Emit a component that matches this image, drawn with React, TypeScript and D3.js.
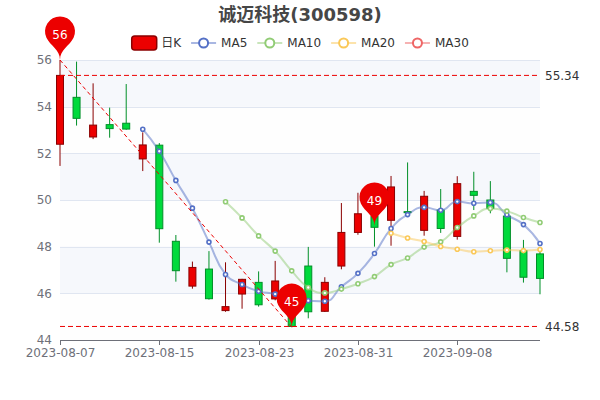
import React, { useMemo } from 'react';
import * as d3 from 'd3';

// Daily K-line data for 诚迈科技 (300598)
const title = '诚迈科技(300598)';
const dates = [
  '2023-08-07', '2023-08-08', '2023-08-09', '2023-08-10', '2023-08-11',
  '2023-08-14', '2023-08-15', '2023-08-16', '2023-08-17', '2023-08-18',
  '2023-08-21', '2023-08-22', '2023-08-23', '2023-08-24', '2023-08-25',
  '2023-08-28', '2023-08-29', '2023-08-30', '2023-08-31', '2023-09-01',
  '2023-09-04', '2023-09-05', '2023-09-06', '2023-09-07', '2023-09-08',
  '2023-09-11', '2023-09-12', '2023-09-13', '2023-09-14', '2023-09-15',
];
const opens = [
  52.39, 54.4, 52.7, 53.23, 53.29, 51.76, 52.35, 48.23, 46.31, 47.04,
  45.26, 45.97, 46.47, 45.76, 45.4, 47.17, 45.23, 47.17, 48.61, 49.3,
  49.13, 49.5, 48.7, 49.57, 48.44, 50.37, 50.0, 49.31, 47.83, 47.69,
];
const closes = [
  55.34, 53.5, 53.21, 53.06, 53.04, 52.36, 48.77, 46.97, 47.11, 45.77,
  45.43, 46.6, 45.51, 46.53, 44.58, 45.21, 46.47, 48.61, 49.41, 48.83,
  50.56, 49.46, 50.16, 48.78, 50.7, 50.2, 49.64, 47.5, 46.69, 46.64,
];
const lows = [
  51.46, 53.19, 52.61, 52.67, 53.01, 51.24, 48.17, 46.5, 46.2, 45.73,
  45.21, 45.34, 45.43, 45.7, 44.55, 44.93, 45.2, 47.03, 48.51, 48.0,
  48.04, 49.44, 48.47, 48.59, 48.3, 49.57, 49.43, 46.9, 46.46, 45.96,
];
const highs = [
  56.0, 55.93, 55.0, 53.96, 54.97, 52.9, 52.44, 48.5, 47.36, 47.81,
  47.33, 46.62, 46.94, 47.39, 46.4, 47.99, 46.69, 49.87, 50.31, 49.7,
  51.03, 51.61, 50.39, 50.47, 51.02, 51.21, 50.81, 49.43, 48.29, 47.79,
];
const yTicks = [44, 46, 48, 50, 52, 54, 56];
const maPeriods = [5, 10, 20, 30];
const maNames = ['MA5', 'MA10', 'MA20', 'MA30'];
const candleName = '日K';

const W = 600;
const H = 400;
const grid = { left: 60, right: 540, top: 60, bottom: 340 };
const FONT = '"DejaVu Sans", "Noto Sans CJK SC", sans-serif';
const UP = '#ec0000';
const UP_BORDER = '#8A0000';
const DOWN = '#00da3c';
const DOWN_BORDER = '#008F28';
const MA_COLORS = ['#5470c6', '#91cc75', '#fac858', '#ee6666'];
const AXIS_COLOR = '#6E7079';
const SPLIT_COLOR = '#E0E6F1';
const BAND_COLORS = ['rgba(250,250,250,0.2)', 'rgba(210,219,238,0.2)'];

function movingAverage(n: number): (number | null)[] {
  return closes.map((_, i) => (i < n ? null : (d3.mean(closes.slice(i - n + 1, i + 1)) as number)));
}

// Smoothed polyline (bezier with neighbour-ratio control points, clamped)
function smoothPath(pts: [number, number][], smooth = 0.5): string {
  let d = '';
  let prevX = 0, prevY = 0, cpx0 = 0, cpy0 = 0;
  const n = pts.length;
  const f = (v: number) => v.toFixed(2);
  for (let k = 0; k < n; k++) {
    const [x, y] = pts[k];
    if (k === 0) {
      d += `M${f(x)},${f(y)}`;
      cpx0 = x; cpy0 = y;
    } else {
      let cpx1: number, cpy1: number;
      let nextCpx0 = x, nextCpy0 = y;
      if (k + 1 >= n) {
        cpx1 = x; cpy1 = y;
      } else {
        const [nextX, nextY] = pts[k + 1];
        let vx = nextX - prevX, vy = nextY - prevY;
        const lenPrev = Math.hypot(x - prevX, y - prevY);
        const lenNext = Math.hypot(nextX - x, nextY - y);
        const ratio = lenNext / (lenNext + lenPrev);
        nextCpx0 = x + vx * smooth * ratio;
        nextCpy0 = y + vy * smooth * ratio;
        nextCpx0 = Math.min(nextCpx0, Math.max(nextX, x));
        nextCpy0 = Math.min(nextCpy0, Math.max(nextY, y));
        nextCpx0 = Math.max(nextCpx0, Math.min(nextX, x));
        nextCpy0 = Math.max(nextCpy0, Math.min(nextY, y));
        vx = nextCpx0 - x; vy = nextCpy0 - y;
        cpx1 = x - vx * lenPrev / lenNext;
        cpy1 = y - vy * lenPrev / lenNext;
        cpx1 = Math.min(cpx1, Math.max(prevX, x));
        cpy1 = Math.min(cpy1, Math.max(prevY, y));
        cpx1 = Math.max(cpx1, Math.min(prevX, x));
        cpy1 = Math.max(cpy1, Math.min(prevY, y));
        vx = x - cpx1; vy = y - cpy1;
        nextCpx0 = x + vx * lenNext / lenPrev;
        nextCpy0 = y + vy * lenNext / lenPrev;
      }
      d += `C${f(cpx0)},${f(cpy0)},${f(cpx1)},${f(cpy1)},${f(x)},${f(y)}`;
      cpx0 = nextCpx0; cpy0 = nextCpy0;
    }
    prevX = x; prevY = y;
  }
  return d;
}

// Map-pin marker with its tip at (x, y)
function pinPath(x: number, y: number, size = 50): string {
  const w = (size / 5) * 3;
  const h = Math.max(w, size);
  const r = w / 2;
  const dy = (r * r) / (h - r);
  const cy = y - h + r + dy;
  const angle = Math.asin(dy / r);
  const dx = Math.cos(angle) * r;
  const tanX = Math.sin(angle);
  const tanY = Math.cos(angle);
  const cpLen = r * 0.6;
  const cpLen2 = r * 0.7;
  const p = d3.path();
  p.moveTo(x - dx, cy + dy);
  p.arc(x, cy, r, Math.PI - angle, Math.PI * 2 + angle);
  p.bezierCurveTo(x + dx - tanX * cpLen, cy + dy + tanY * cpLen, x, y - cpLen2, x, y);
  p.bezierCurveTo(x, y - cpLen2, x - dx + tanX * cpLen, cy + dy + tanY * cpLen, x - dx, cy + dy);
  p.closePath();
  return p.toString();
}

let measureCtx: CanvasRenderingContext2D | null = null;
function textWidth(s: string, size = 12): number {
  if (!measureCtx) measureCtx = document.createElement('canvas').getContext('2d');
  if (!measureCtx) return s.length * size * 0.6;
  measureCtx.font = `${size}px ${FONT}`;
  return measureCtx.measureText(s).width;
}

export default function App() {
  const x = useMemo(() => d3.scalePoint<string>().domain(dates).range([grid.left, grid.right]), []);
  const y = useMemo(() => d3.scaleLinear().domain([44, 56]).range([grid.bottom, grid.top]), []);
  const mas = useMemo(() => maPeriods.map(movingAverage), []);

  const bodyW = 7;

  // markers: highest high, lowest low, average close
  const hiIdx = d3.maxIndex(highs);
  const loIdx = d3.minIndex(lows);
  const avgClose = d3.mean(closes) as number;
  const avgIdx = d3.minIndex(closes, (c) => Math.abs(c - avgClose));
  const pins = [
    { i: hiIdx, v: highs[hiIdx] },
    { i: loIdx, v: lows[loIdx] },
    { i: avgIdx, v: avgClose },
  ];
  const maxClose = d3.max(closes) as number;
  const minClose = d3.min(closes) as number;

  // legend layout
  const legendItems = [candleName, ...maNames];
  const itemW = legendItems.map((s) => 25 + 5 + textWidth(s));
  const totalW = d3.sum(itemW) + 10 * (legendItems.length - 1);
  let cursor = W / 2 - totalW / 2;
  const legendX = itemW.map((w) => {
    const s = cursor;
    cursor += w + 10;
    return s;
  });
  const legendY = 43;

  const xTickIdx = dates.map((_, i) => i).filter((i) => i % 6 === 0);

  return (
    <svg
      width={W}
      height={H}
      style={{ position: 'absolute', left: 0, top: 0, background: '#fff' }}
      fontFamily={FONT}
    >
      {/* title */}
      <text x={W / 2} y={21} textAnchor="middle" fontSize={18} fontWeight="bold" fill="#464646">
        {title}
      </text>

      {/* legend */}
      <g>
        {legendItems.map((name, k) => {
          const lx = legendX[k];
          return (
            <g key={name}>
              {k === 0 ? (
                <rect
                  x={lx + 0.5}
                  y={legendY - 7}
                  width={25}
                  height={14}
                  rx={3}
                  fill={UP}
                  stroke={UP_BORDER}
                  strokeWidth={1.5}
                />
              ) : (
                <g>
                  <line
                    x1={lx}
                    x2={lx + 25}
                    y1={legendY}
                    y2={legendY}
                    stroke={MA_COLORS[k - 1]}
                    strokeOpacity={0.5}
                    strokeWidth={2}
                  />
                  <circle cx={lx + 12.5} cy={legendY} r={4.5} fill="#fff" stroke={MA_COLORS[k - 1]} strokeWidth={2} />
                </g>
              )}
              <text x={lx + 30} y={legendY} dy="0.35em" fontSize={12} fill="#333">
                {name}
              </text>
            </g>
          );
        })}
      </g>

      {/* split areas and split lines */}
      <g>
        {yTicks.slice(0, -1).map((t, k) => (
          <rect
            key={t}
            x={grid.left}
            y={y(yTicks[k + 1])}
            width={grid.right - grid.left}
            height={y(t) - y(yTicks[k + 1])}
            fill={BAND_COLORS[k % 2]}
          />
        ))}
        {yTicks.map((t) => (
          <line
            key={t}
            x1={grid.left}
            x2={grid.right}
            y1={Math.round(y(t)) + 0.5}
            y2={Math.round(y(t)) + 0.5}
            stroke={SPLIT_COLOR}
          />
        ))}
      </g>

      {/* y axis labels */}
      <g>
        {yTicks.map((t) => (
          <text key={t} x={grid.left - 8} y={y(t)} dy="0.35em" textAnchor="end" fontSize={12} fill={AXIS_COLOR}>
            {t}
          </text>
        ))}
      </g>

      {/* candles */}
      <g>
        {dates.map((dt, i) => {
          const cx = x(dt) as number;
          const up = closes[i] >= opens[i];
          const top = y(Math.max(opens[i], closes[i]));
          const bot = y(Math.min(opens[i], closes[i]));
          const border = up ? UP_BORDER : DOWN_BORDER;
          return (
            <g key={dt}>
              <line x1={cx} x2={cx} y1={y(highs[i])} y2={y(lows[i])} stroke={border} strokeWidth={1} />
              <rect
                x={cx - bodyW / 2}
                y={top}
                width={bodyW}
                height={Math.max(1, bot - top)}
                fill={up ? UP : DOWN}
                stroke={border}
                strokeWidth={1}
              />
            </g>
          );
        })}
      </g>

      {/* moving averages */}
      <g>
        {mas.map((vals, k) => {
          const pts = vals
            .map((v, i) => (v == null ? null : ([x(dates[i]) as number, y(v)] as [number, number])))
            .filter((p): p is [number, number] => p !== null);
          if (pts.length === 0) return null;
          return (
            <g key={maNames[k]}>
              <path
                d={pts.length > 1 ? smoothPath(pts) : ''}
                fill="none"
                stroke={MA_COLORS[k]}
                strokeOpacity={0.5}
                strokeWidth={2}
              />
              {pts.map(([px, py], j) => (
                <circle key={j} cx={px} cy={py} r={2} fill="#fff" stroke={MA_COLORS[k]} strokeWidth={1.6} />
              ))}
            </g>
          );
        })}
      </g>

      {/* mark lines */}
      <g stroke={UP} strokeWidth={1} fill="none">
        {[maxClose, minClose].map((v) => (
          <line key={v} x1={grid.left} x2={grid.right} y1={y(v)} y2={y(v)} strokeDasharray="5,3" />
        ))}
        <line
          x1={x(dates[hiIdx]) as number}
          y1={y(highs[hiIdx])}
          x2={x(dates[loIdx]) as number}
          y2={y(lows[loIdx])}
          strokeDasharray="4,3"
        />
      </g>
      <g>
        {[maxClose, minClose].map((v) => (
          <text key={v} x={grid.right + 5} y={y(v)} dy="0.35em" fontSize={12} fill="#333">
            {v.toFixed(2)}
          </text>
        ))}
      </g>

      {/* x axis */}
      <g>
        <line x1={grid.left} x2={grid.right} y1={grid.bottom + 0.5} y2={grid.bottom + 0.5} stroke={AXIS_COLOR} />
        {xTickIdx.map((i) => {
          const tx = Math.round(x(dates[i]) as number) + 0.5;
          return (
            <g key={i}>
              <line x1={tx} x2={tx} y1={grid.bottom} y2={grid.bottom + 5} stroke={AXIS_COLOR} />
              <text x={tx} y={grid.bottom + 8} dy="0.71em" textAnchor="middle" fontSize={12} fill={AXIS_COLOR}>
                {dates[i]}
              </text>
            </g>
          );
        })}
      </g>

      {/* mark points */}
      <g>
        {pins.map((p, k) => {
          const px = x(dates[p.i]) as number;
          const py = y(p.v);
          return (
            <g key={k}>
              <path d={pinPath(px, py)} fill={UP} />
              <text x={px} y={py - 25} dy="0.35em" textAnchor="middle" fontSize={12} fill="#fff">
                {Math.round(p.v)}
              </text>
            </g>
          );
        })}
      </g>
    </svg>
  );
}
